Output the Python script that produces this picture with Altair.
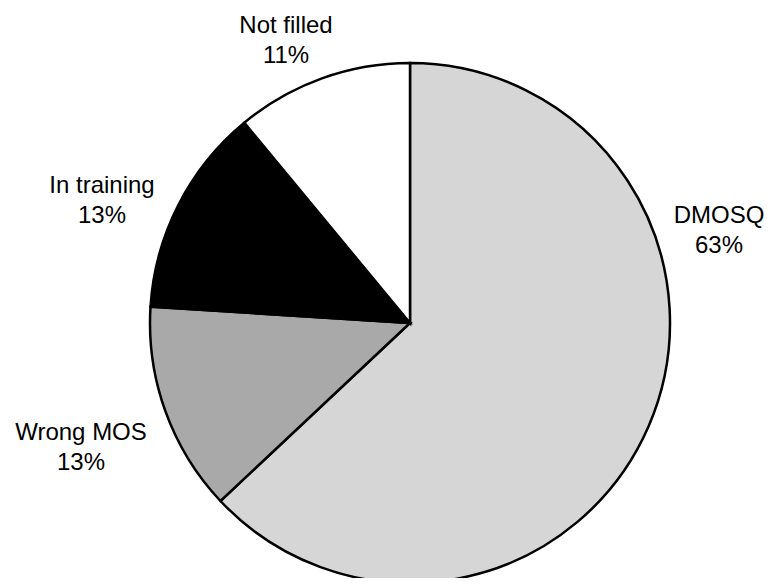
import altair as alt
import pandas as pd

categories = ["DMOSQ", "Wrong MOS", "In training", "Not filled"]
percents = [63, 13, 13, 11]
colors = ["#d6d6d6", "#a9a9a9", "#000000", "#ffffff"]

df = pd.DataFrame({"category": categories, "pct": percents, "order": list(range(len(categories)))})

W, H = 759, 570
CX, CY, R = 402, 315, 260

pie = alt.Chart(df).mark_arc(stroke="black", strokeWidth=2.5, radius=R).encode(
    theta=alt.Theta("pct:Q", stack=True),
    order=alt.Order("order:Q"),
    color=alt.Color("category:N", scale=alt.Scale(domain=categories, range=colors), legend=None),
    x=alt.value(CX),
    y=alt.value(CY),
)

# label anchor (x centre, first-line baseline) in chart coordinates
label_pos = {
    "DMOSQ": (711, 215),
    "Wrong MOS": (73, 432),
    "In training": (94, 185),
    "Not filled": (278, 25),
}

layers = [pie]
for cat, p in zip(categories, percents):
    lx, ly = label_pos[cat]
    layers.append(
        alt.Chart(pd.DataFrame({"t": [f"{cat}\n{p}%"]})).mark_text(
            font="Liberation Sans", fontSize=24, color="black", align="center",
            baseline="alphabetic", lineBreak="\n", lineHeight=30,
        ).encode(text="t:N", x=alt.value(lx), y=alt.value(ly))
    )

chart = alt.layer(*layers).properties(
    width=W, height=H, autosize=alt.AutoSizeParams(type="none"), padding=0
).configure_view(stroke=None)

chart.save("out.html", embed_options={"renderer": "svg", "actions": False})
